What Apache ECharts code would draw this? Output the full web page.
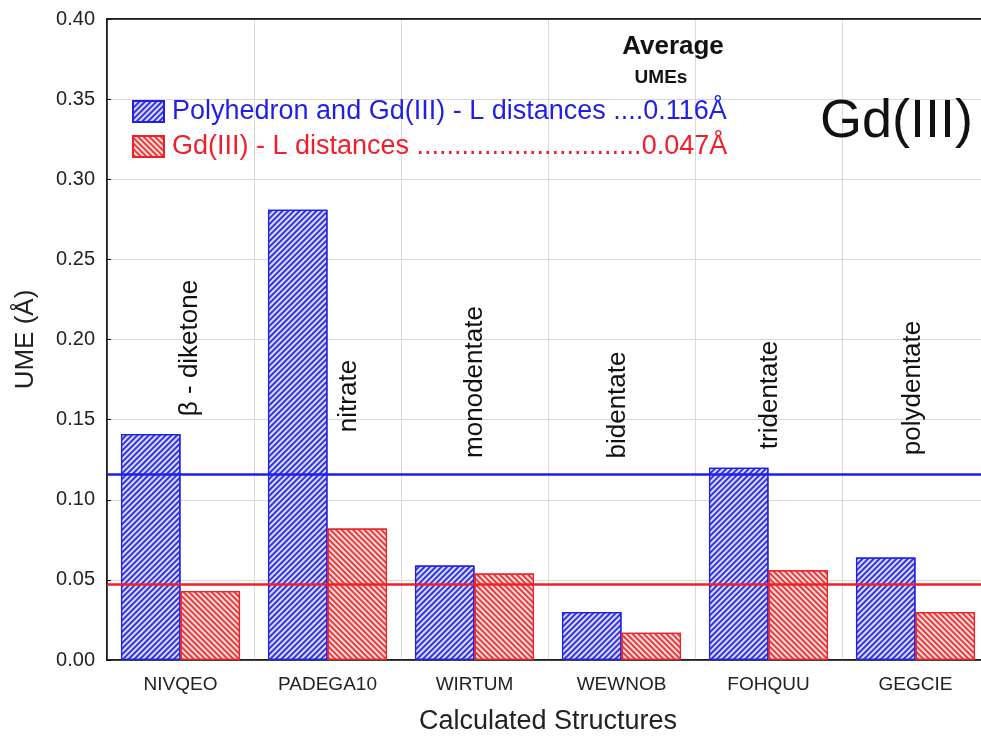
<!DOCTYPE html>
<html>
<head>
<meta charset="utf-8">
<title>UME Gd(III)</title>
<script src="https://cdn.jsdelivr.net/npm/echarts@6/dist/echarts.min.js"></script>
<style>
    html, body { margin: 0; padding: 0; background: #fff; overflow: hidden; }
    #main { width: 981px; height: 738px; }
</style>
</head>
<body>
<div id="main"></div>
<script>
// 数据
var categories = ["NIVQEO", "PADEGA10", "WIRTUM", "WEWNOB", "FOHQUU", "GEGCIE"];
var polyhedronUME = [0.141, 0.281, 0.059, 0.030, 0.120, 0.064];
var gdLigandUME = [0.043, 0.082, 0.054, 0.017, 0.056, 0.030];
var ligandTypes = ["β - diketone", "nitrate", "monodentate", "bidentate", "tridentate", "polydentate"];
var seriesNames = ["Polyhedron and Gd(III) - L distances", "Gd(III) - L distances"];
var averageUME = [0.116, 0.047];
var yMin = 0, yMax = 0.40, yStep = 0.05;

(function() {
    var font = "'Liberation Sans', Arial, sans-serif";
    var blue = "#1f1fe6";
    var red = "#f0202a";
    var myChart = echarts.init(document.getElementById("main"));

    // 旋转的配体类型文字 (像素位置)
    var ligandPos = [[190, 348], [349, 396], [475, 382], [618, 405], [770, 395], [913, 388]];
    var graphics = ligandTypes.map(function(t, i) {
        return {
            type: "text",
            x: ligandPos[i][0],
            y: ligandPos[i][1],
            rotation: Math.PI / 2,
            z: 100,
            style: {
                text: t,
                font: "26px " + font,
                fill: "#111",
                textAlign: "center",
                textVerticalAlign: "middle"
            }
        };
    });
    graphics.push(
        { type: "text", z: 100, x: 673, y: 47, style: { text: "Average", font: "bold 26px " + font, fill: "#111", textAlign: "center", textVerticalAlign: "middle" } },
        { type: "text", z: 100, x: 661, y: 78, style: { text: "UMEs", font: "bold 19px " + font, fill: "#111", textAlign: "center", textVerticalAlign: "middle" } },
        { type: "text", z: 100, x: 820, y: 122, style: { text: "Gd(III)", font: "54px " + font, fill: "#111", textAlign: "left", textVerticalAlign: "middle" } }
    );

    var legendText = {};
    legendText[seriesNames[0]] = seriesNames[0] + " ...." + averageUME[0].toFixed(3) + "Å";
    legendText[seriesNames[1]] = seriesNames[1] + " " + new Array(31).join(".") + averageUME[1].toFixed(3) + "Å";

    var option = {
        backgroundColor: "#fff",
        animation: false,
        grid: {
            left: 107,
            width: 882,
            top: 19,
            bottom: 78,
            outerBoundsMode: "none",
            show: true,
            borderColor: "#111",
            borderWidth: 1.5
        },
        legend: {
            orient: "vertical",
            left: 132,
            top: 98,
            padding: 0,
            itemWidth: 31,
            itemHeight: 21,
            itemGap: 8,
            icon: "rect",
            formatter: function(name) {
                return legendText[name];
            },
            textStyle: { fontFamily: font, fontSize: 27, padding: [0, 0, 0, 3] },
            data: [
                { name: seriesNames[0], textStyle: { color: blue } },
                { name: seriesNames[1], textStyle: { color: red } }
            ]
        },
        xAxis: [{
            type: "category",
            data: categories,
            name: "Calculated Structures",
            nameLocation: "middle",
            nameGap: 48,
            nameTextStyle: { fontFamily: font, fontSize: 27, color: "#222" },
            axisLine: { lineStyle: { color: "#111", width: 1.5 } },
            axisTick: { inside: true, length: 5, lineStyle: { color: "#111" } },
            axisLabel: { fontFamily: font, fontSize: 19, color: "#222", margin: 15 },
            splitLine: { show: true, lineStyle: { color: "#d9d9d9", width: 1 } }
        }, {
            type: "category",
            data: categories,
            position: "top",
            axisLine: { lineStyle: { color: "#111", width: 1.5 } },
            axisTick: { inside: true, length: 5, lineStyle: { color: "#111" } },
            axisLabel: { show: false },
            splitLine: { show: false }
        }],
        yAxis: {
            type: "value",
            min: yMin,
            max: yMax,
            interval: yStep,
            name: "UME (Å)",
            nameLocation: "middle",
            nameGap: 68,
            nameTextStyle: { fontFamily: font, fontSize: 26, color: "#222" },
            axisLine: { show: true, lineStyle: { color: "#111", width: 1.5 } },
            axisTick: { show: true, inside: true, length: 4, lineStyle: { color: "#111" } },
            axisLabel: {
                fontFamily: font,
                fontSize: 20,
                color: "#222",
                margin: 12,
                formatter: function(v) { return v.toFixed(2); }
            },
            splitLine: { lineStyle: { color: "#d9d9d9", width: 1 } }
        },
        series: [{
            name: seriesNames[0],
            type: "bar",
            data: polyhedronUME,
            barGap: "0%",
            barCategoryGap: "19%",
            itemStyle: {
                color: "#dcdcff",
                borderColor: blue,
                borderWidth: 1.2,
                decal: {
                    symbol: "rect",
                    symbolSize: 1,
                    dashArrayX: [1, 0],
                    dashArrayY: [1.4, 1.8],
                    rotation: -Math.PI / 4,
                    color: "#3434e0"
                }
            },
            markLine: {
                silent: true,
                symbol: "none",
                precision: 3,
                label: { show: false },
                lineStyle: { color: blue, width: 2.5, type: "solid" },
                data: [{ yAxis: averageUME[0] }]
            },
            z: 2
        }, {
            name: seriesNames[1],
            type: "bar",
            data: gdLigandUME,
            itemStyle: {
                color: "#ffe0e0",
                borderColor: red,
                borderWidth: 1.2,
                decal: {
                    symbol: "rect",
                    symbolSize: 1,
                    dashArrayX: [1, 0],
                    dashArrayY: [1.4, 1.8],
                    rotation: Math.PI / 4,
                    color: "#ea3a3a"
                }
            },
            markLine: {
                silent: true,
                symbol: "none",
                precision: 3,
                label: { show: false },
                lineStyle: { color: red, width: 2.5, type: "solid" },
                data: [{ yAxis: averageUME[1] }]
            },
            z: 2
        }],
        graphic: graphics
    };

    myChart.setOption(option);
    window.addEventListener("resize", function() {
        myChart.resize();
    });
})();
</script>
</body>
</html>
